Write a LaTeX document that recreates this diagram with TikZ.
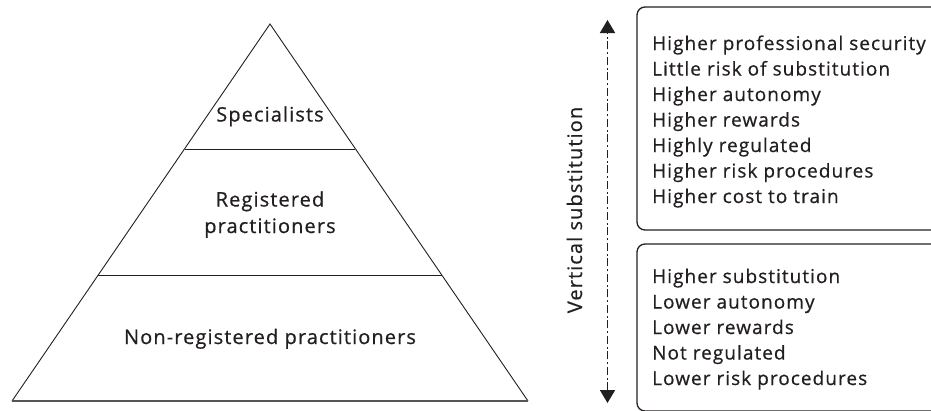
\documentclass[tikz,border=0pt]{standalone}
\usepackage{fontspec}
\setmainfont[LetterSpace=5.5, FakeBold=0.6]{Open Sans}
\usetikzlibrary{arrows.meta}
\definecolor{ink}{HTML}{231F20}
\definecolor{rule}{HTML}{555555}
\begin{document}
\begin{tikzpicture}[x=1pt,y=-1pt,
  every node/.style={text=ink, inner sep=0pt},
  tierlabel/.style={font=\fontsize{20}{26.5}\selectfont, align=center, anchor=base},
  listtext/.style={font=\fontsize{19}{25.5}\selectfont, align=left, anchor=base west},
  listbox/.style={draw=ink, line width=1.3pt, rounded corners=8pt},
  substarrow/.style={draw=ink, line width=1.8pt, dash pattern=on 8pt off 2.7pt on 2pt off 2.8pt,
    {Triangle[length=13pt,width=15pt]}-{Triangle[length=13pt,width=15pt]}}]
\useasboundingbox (0,0) rectangle (931,410);
\clip (0,0) rectangle (931,410);

% pyramid outline and tier dividers
\coordinate (apex) at (270,24);
\coordinate (bl) at (12,401);
\coordinate (br) at (528,401);
\draw[ink, line width=0.9pt, line join=miter] (bl) -- (apex) -- (br);
\draw[rule, line width=2pt] (bl) -- (br);
\draw[ink, line width=0.9pt] (184.6,149) -- (355.4,149);
\draw[ink, line width=0.9pt] (98,275.5) -- (442,275.5);

% tier labels (base anchor sits on the last line)
\node[tierlabel] (spec) at (270,121.5) {Specialists};
\node[tierlabel] (reg) at (270,233) {Registered\\practitioners};
\node[tierlabel] (nonreg) at (270,344) {Non-registered practitioners};

% substitution axis
\coordinate (axtop) at (607.5,20);
\coordinate (axbot) at (607.5,403);
\draw[substarrow] (axbot) -- (axtop);
\node[font=\fontsize{20}{24}\selectfont, rotate=90, anchor=base] (vsub) at (582,210) {Vertical substitution};

% attribute boxes
\draw[listbox] (637,7) rectangle (960,230);
\draw[listbox] (637,244) rectangle (960,411);
\node[listtext] (upper) at (652,203) {Higher professional security\\Little risk of substitution\\Higher autonomy\\Higher rewards\\Highly regulated\\Higher risk procedures\\Higher cost to train};
\node[listtext] (lower) at (652,385) {Higher substitution\\Lower autonomy\\Lower rewards\\Not regulated\\Lower risk procedures};
\end{tikzpicture}
\end{document}
